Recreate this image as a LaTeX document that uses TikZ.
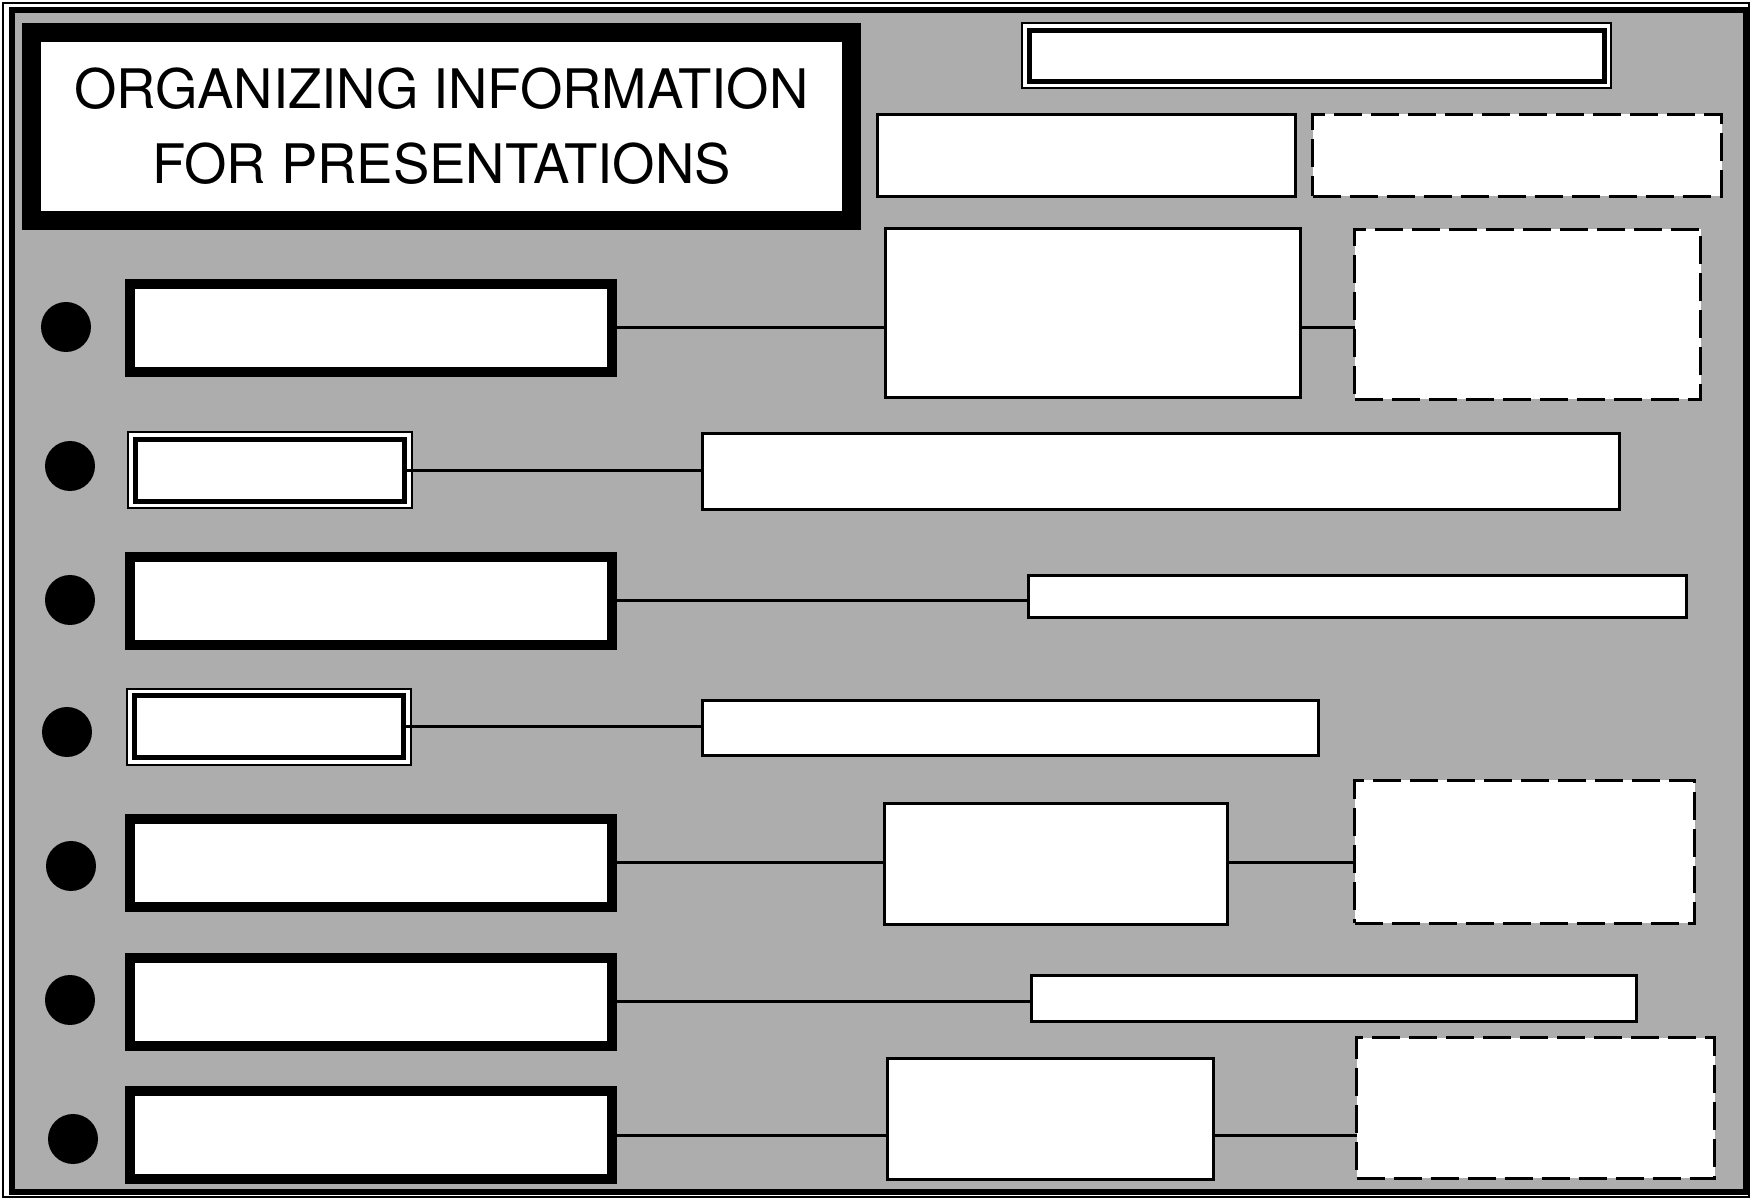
\documentclass[tikz,border=0pt]{standalone}
\usepackage{fontspec}
\setmainfont{TeX Gyre Heros}
\tikzset{
  thickbox/.style={draw, fill=white, line width=1mm, inner sep=0pt, outer sep=0pt},
  thinbox/.style={draw, fill=white, line width=0.3mm, inner sep=0pt, outer sep=0pt},
  dashbox/.style={thinbox, line width=0.35mm, dash pattern=on 2.8mm off 0.9mm},
  dblbox/.style={draw, fill=white, line width=0.5mm, inner sep=0pt, outer sep=0pt,
    preaction={draw, line width=1.6mm}, preaction={draw=white, line width=1.2mm}},
  dot/.style={circle, fill=black, minimum size=5mm, inner sep=0pt},
  link/.style={line width=0.3mm},
}
\begin{document}
\begin{tikzpicture}[x=0.1mm, y=-0.1mm]
                        \useasboundingbox (0,0) rectangle (1752,1200);

                        % Drawing frame
                        \draw [line width=0.2mm] (3,3) rectangle (1749,1197);%
                        \draw [line width=0.6mm, fill=black!32] (12,10) rectangle (1746,1192);%

                        % Drawing title
                        \node (title) at (441.5,126.5) [thickbox, line width=1.9mm, minimum width=82mm, minimum height=18.8mm, align=center,
                          font=\fontsize{15.5}{21.3}\selectfont]
                          {ORGANIZING INFORMATION\\FOR PRESENTATIONS};%

                        % Drawing top boxes
                        \node (head) at (1316.5,56) [dblbox, minimum width=57.5mm, minimum height=5.1mm] {};%
                        \node (topa) at (1086.5,155.5) [thinbox, minimum width=41.8mm, minimum height=8.2mm] {};%
                        \node (topb) at (1517,155.5) [dashbox, minimum width=40.9mm, minimum height=8.2mm] {};%

                        % Drawing row 1
                        \node (p1) at (66,327) [dot] {};%
                        \node (a1) at (371,328) [thickbox, minimum width=48.2mm, minimum height=8.8mm] {};%
                        \node (b1) at (1093,313) [thinbox, minimum width=41.5mm, minimum height=16.9mm] {};%
                        \node (c1) at (1527.5,314.5) [dashbox, minimum width=34.6mm, minimum height=17mm] {};%
                        \draw [link] (a1.east) -- (a1.east -| b1.west);%
                        \draw [link] (a1.east -| b1.east) -- (a1.east -| c1.west);%

                        % Drawing row 2
                        \node (p2) at (70,466) [dot] {};%
                        \node (a2) at (270,470.5) [dblbox, minimum width=27mm, minimum height=6.2mm] {};%
                        \node (b2) at (1161,471.5) [thinbox, minimum width=91.7mm, minimum height=7.6mm] {};%
                        \draw [link] (a2.east) -- (a2.east -| b2.west);%

                        % Drawing row 3
                        \node (p3) at (70,600) [dot] {};%
                        \node (a3) at (371,601) [thickbox, minimum width=48.2mm, minimum height=8.8mm] {};%
                        \node (b3) at (1357.5,596.5) [thinbox, minimum width=65.8mm, minimum height=4.2mm] {};%
                        \draw [link] (a3.east) -- (a3.east -| b3.west);%

                        % Drawing row 4
                        \node (p4) at (67,732) [dot] {};%
                        \node (a4) at (269,727) [dblbox, minimum width=27mm, minimum height=6.2mm] {};%
                        \node (b4) at (1010.5,728) [thinbox, minimum width=61.6mm, minimum height=5.5mm] {};%
                        \draw [link] (a4.east) -- (a4.east -| b4.west);%

                        % Drawing row 5
                        \node (p5) at (71,866) [dot] {};%
                        \node (a5) at (371,863) [thickbox, minimum width=48.2mm, minimum height=8.8mm] {};%
                        \node (b5) at (1056,864) [thinbox, minimum width=34.3mm, minimum height=12.1mm] {};%
                        \node (c5) at (1524.5,852) [dashbox, minimum width=34mm, minimum height=14.3mm] {};%
                        \draw [link] (a5.east) -- (a5.east -| b5.west);%
                        \draw [link] (a5.east -| b5.east) -- (a5.east -| c5.west);%

                        % Drawing row 6
                        \node (p6) at (70,1000) [dot] {};%
                        \node (a6) at (371,1002) [thickbox, minimum width=48.2mm, minimum height=8.8mm] {};%
                        \node (b6) at (1334,998.5) [thinbox, minimum width=60.5mm, minimum height=4.6mm] {};%
                        \draw [link] (a6.east) -- (a6.east -| b6.west);%

                        % Drawing row 7
                        \node (p7) at (73,1139) [dot] {};%
                        \node (a7) at (371,1135) [thickbox, minimum width=48.2mm, minimum height=8.8mm] {};%
                        \node (b7) at (1050.5,1119) [thinbox, minimum width=32.6mm, minimum height=12.1mm] {};%
                        \node (c7) at (1535.5,1108) [dashbox, minimum width=35.8mm, minimum height=14.1mm] {};%
                        \draw [link] (a7.east) -- (a7.east -| b7.west);%
                        \draw [link] (a7.east -| b7.east) -- (a7.east -| c7.west);%
                    \end{tikzpicture}
\end{document}
